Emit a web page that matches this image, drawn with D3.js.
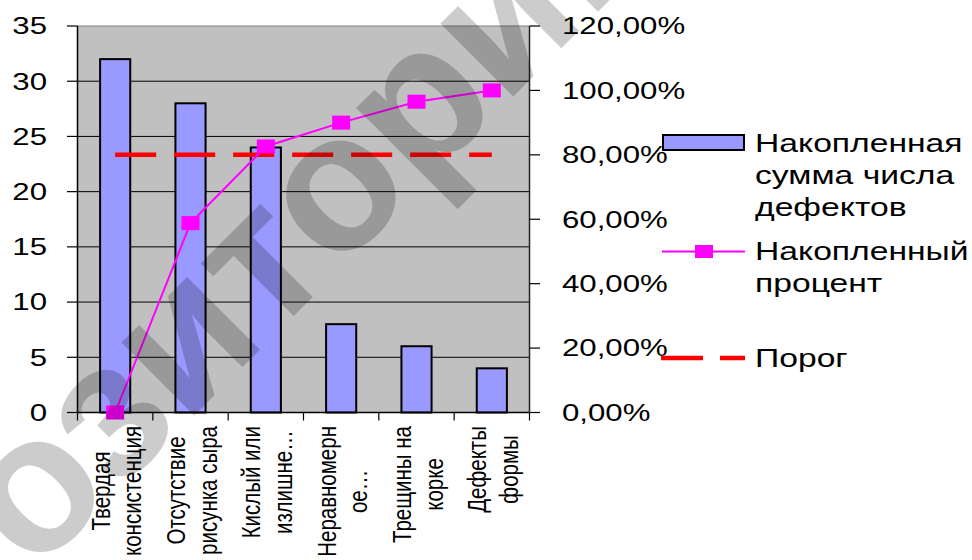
<!DOCTYPE html>
<html><head><meta charset="utf-8">
<script src="https://cdn.jsdelivr.net/npm/d3@7"></script>
<style>body{margin:0;background:#fff}svg{display:block}text{font-family:"Liberation Sans",Arial,sans-serif;fill:#000}</style>
</head><body>
<svg id="c" width="972" height="560"></svg>
<script>
const categories = ["Твердая\nконсистенция","Отсутствие\nрисунка сыра","Кислый или\nизлишне…","Неравномерн\nое…","Трещины на\nкорке","Дефекты\nформы"];
const defects = [32, 28, 24, 8, 6, 4];
const cumPercent = [0, 0.588, 0.826, 0.90, 0.965, 1.0];
const threshold = [0.8, 0.8, 0.8, 0.8, 0.8, 0.8];
const leftTicks = [0,5,10,15,20,25,30,35];
const rightTicks = [0,0.2,0.4,0.6,0.8,1.0,1.2];
const legendLabels = [["Накопленная","сумма числа","дефектов"],["Накопленный","процент"],["Порог"]];
const watermark = "репозиторий";

const SX = 1.3;
const svg = d3.select("#c");
const L = 77.5, R = 529.5, T = 26, B = 412.5;
const x = d3.scaleBand().domain(categories).range([L, R]).paddingInner(0.6).paddingOuter(0.3);
const yL = d3.scaleLinear().domain([0,35]).range([B,T]);
const yR = d3.scaleLinear().domain([0,1.2]).range([B,T]);
const cx = c => x(c) + x.bandwidth()/2;
const fmtPct = d => d3.format(".2f")(d*100).replace(".", ",") + "%";

// plot background
svg.append("rect").attr("x",L).attr("y",T).attr("width",R-L).attr("height",B-T).attr("fill","#c0c0c0");
// gridlines
svg.append("g").selectAll("line").data(leftTicks.filter(v=>v>0 && v<35)).join("line")
  .attr("x1",L).attr("x2",R).attr("y1",d=>yL(d)).attr("y2",d=>yL(d)).attr("stroke","#000").attr("stroke-width",1);
svg.append("line").attr("x1",L).attr("x2",R).attr("y1",T).attr("y2",T).attr("stroke","#808080").attr("stroke-width",1.2);

// bars
svg.append("g").selectAll("rect").data(defects).join("rect")
  .attr("x",(d,i)=>x(categories[i])).attr("width",x.bandwidth())
  .attr("y",d=>yL(d)).attr("height",d=>yL(0)-yL(d))
  .attr("fill","#9999ff").attr("stroke","#000").attr("stroke-width",2);

// axes lines
svg.append("line").attr("x1",L).attr("x2",L).attr("y1",T).attr("y2",B).attr("stroke","#000").attr("stroke-width",1.5);
svg.append("line").attr("x1",R).attr("x2",R).attr("y1",T).attr("y2",B).attr("stroke","#222").attr("stroke-width",1.5);
svg.append("line").attr("x1",L).attr("x2",R).attr("y1",B).attr("y2",B).attr("stroke","#000").attr("stroke-width",1.5);
svg.append("g").selectAll("line").data(leftTicks).join("line")
  .attr("x1",L-10.5).attr("x2",L).attr("y1",d=>yL(d)).attr("y2",d=>yL(d)).attr("stroke","#000").attr("stroke-width",1.2);
svg.append("g").selectAll("line").data(rightTicks).join("line")
  .attr("x1",R).attr("x2",R+10.5).attr("y1",d=>yR(d)).attr("y2",d=>yR(d)).attr("stroke","#000").attr("stroke-width",1.2);
svg.append("g").selectAll("line").data(d3.range(categories.length+1)).join("line")
  .attr("x1",i=>L+i*x.step()).attr("x2",i=>L+i*x.step()).attr("y1",B).attr("y2",B+8).attr("stroke","#000").attr("stroke-width",1.2);

// tick labels
svg.append("g").selectAll("text").data(leftTicks).join("text")
  .attr("transform",d=>`translate(47,${yL(d)}) scale(${SX},1)`)
  .attr("text-anchor","end").attr("dy","0.35em").attr("font-size",24).text(d=>d);
svg.append("g").selectAll("text").data(rightTicks).join("text")
  .attr("transform",d=>`translate(562,${yR(d)}) scale(${SX},1)`)
  .attr("text-anchor","start").attr("dy","0.35em").attr("font-size",24).text(fmtPct);

// category labels
const cat = svg.append("g").selectAll("g").data(categories).join("g");
cat.each(function(c){
  const g = d3.select(this);
  const lines = c.split("\n");
  const texts = lines.map((ln,i)=> g.append("text").attr("text-anchor","middle").attr("font-size",20.5)
     .attr("x",0).attr("y",(i-(lines.length-1)/2)*24.6).attr("dy","0.35em").text(ln));
  const maxLen = d3.max(texts, t=>t.node().getComputedTextLength());
  g.attr("transform",`translate(${cx(c)+1},${426+maxLen/2}) scale(${SX},1) rotate(-90)`);
});

// threshold
const thr = d3.line().x((d,i)=>cx(categories[i])).y(d=>yR(d));
svg.append("path").datum(threshold).attr("d",thr).attr("fill","none")
  .attr("stroke","#ff0000").attr("stroke-width",4.5).attr("stroke-dasharray","41,18");

// cumulative line
const ln = d3.line().x((d,i)=>cx(categories[i])).y(d=>yR(d));
svg.append("path").datum(cumPercent).attr("d",ln).attr("fill","none").attr("stroke","#ff00ff").attr("stroke-width",2);
svg.append("g").selectAll("rect").data(cumPercent).join("rect")
  .attr("x",(d,i)=>cx(categories[i])-9).attr("y",d=>yR(d)-7).attr("width",18).attr("height",14).attr("fill","#ff00ff");

// legend
const lg = svg.append("g");
lg.append("rect").attr("x",663).attr("y",135).attr("width",81).attr("height",15).attr("fill","#9999ff").attr("stroke","#000").attr("stroke-width",2);
lg.append("line").attr("x1",662).attr("x2",745).attr("y1",251.5).attr("y2",251.5).attr("stroke","#ff00ff").attr("stroke-width",2);
lg.append("rect").attr("x",695).attr("y",245).attr("width",18).attr("height",13).attr("fill","#ff00ff");
lg.append("line").attr("x1",661).attr("x2",745).attr("y1",358).attr("y2",358).attr("stroke","#ff0000").attr("stroke-width",4.5).attr("stroke-dasharray","42,17");
const legY = [[143,175,207],[251,283],[358]];
legendLabels.forEach((lines,k)=>lines.forEach((t,i)=>{
  lg.append("text").attr("transform",`translate(755,${legY[k][i]}) scale(1.32,1)`)
    .attr("dy","0.35em").attr("font-size",25.5).text(t);
}));

// watermark
const wm = svg.append("g").attr("transform","translate(-2,540) rotate(-45)");
const wt = wm.append("text").attr("font-size",195).attr("font-weight","bold").attr("dy","0.26em")
  .style("fill","#000").attr("fill-opacity",0.2).text(watermark);
const pre = wt.node().getSubStringLength(0,3);
wt.attr("x",-pre);
</script>
</body></html>
